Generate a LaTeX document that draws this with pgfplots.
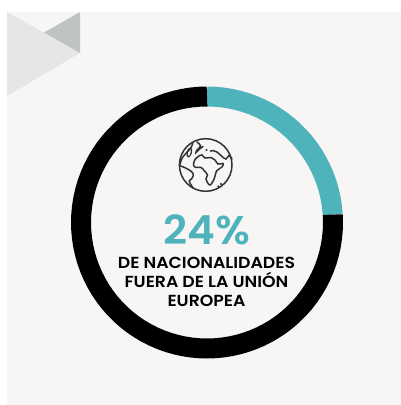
\documentclass[border=0pt]{standalone}
\usepackage{fontspec}
\setmainfont{Poppins}
\newfontfamily\lab{Poppins SemiBold}[FakeStretch=1.08]
\newfontfamily\pct{Poppins SemiBold}[FakeStretch=1.05]
\usepackage{pgfplots}
\pgfplotsset{compat=1.18}
\definecolor{panel}{HTML}{F7F6F4}
\definecolor{lighttri}{HTML}{E6E6E6}
\definecolor{darktri}{HTML}{BEC3C4}
\definecolor{ringteal}{HTML}{4FB3BC}
\definecolor{icon}{HTML}{333333}
\pgfplotsset{
  % picture pixels to axis units, the ring centre is the origin
  px/.style={x filter/.expression={x-207}, y filter/.expression={222.5-y}},
  globe/.style={px, draw=icon, line width=1.5pt, smooth, tension=0.6, no marks, line cap=round},
}
\begin{document}
\begin{tikzpicture}
\begin{axis}[
    scale only axis, width=401pt, height=405pt,
    xmin=-207, xmax=194, ymin=-182.5, ymax=222.5,
    hide axis, clip=false,
  ]
  % background
  \addplot[px, fill=white, draw=none, forget plot] coordinates {(0,0) (401,0) (401,405) (0,405)} --cycle;
  \addplot[px, fill=panel, draw=none, forget plot] coordinates {(7,12) (401,12) (401,405) (7,405)} --cycle;
  \addplot[px, fill=lighttri, draw=none, forget plot] coordinates {(7,12) (80,53) (7,96)} --cycle;
  \addplot[px, fill=darktri, draw=none, forget plot] coordinates {(80,12) (80,53) (44,32.5)} --cycle;

  % ring, 24% and 76%, one point per 1%
  \addplot[data cs=polar, draw=ringteal, line width=20pt, no marks] coordinates {
    (90,126) (86.4,126) (82.8,126) (79.2,126) (75.6,126) (72,126) (68.4,126) (64.8,126) (61.2,126) (57.6,126)
    (54,126) (50.4,126) (46.8,126) (43.2,126) (39.6,126) (36,126) (32.4,126) (28.8,126) (25.2,126) (21.6,126)
    (18,126) (14.4,126) (10.8,126) (7.2,126) (3.6,126)
  };
  \addplot[data cs=polar, draw=black, line width=20pt, no marks] coordinates {
    (3.6,126) (0,126) (-3.6,126) (-7.2,126) (-10.8,126) (-14.4,126) (-18,126) (-21.6,126) (-25.2,126) (-28.8,126)
    (-32.4,126) (-36,126) (-39.6,126) (-43.2,126) (-46.8,126) (-50.4,126) (-54,126) (-57.6,126) (-61.2,126) (-64.8,126)
    (-68.4,126) (-72,126) (-75.6,126) (-79.2,126) (-82.8,126) (-86.4,126) (-90,126) (-93.6,126) (-97.2,126) (-100.8,126)
    (-104.4,126) (-108,126) (-111.6,126) (-115.2,126) (-118.8,126) (-122.4,126) (-126,126) (-129.6,126) (-133.2,126) (-136.8,126)
    (-140.4,126) (-144,126) (-147.6,126) (-151.2,126) (-154.8,126) (-158.4,126) (-162,126) (-165.6,126) (-169.2,126) (-172.8,126)
    (-176.4,126) (-180,126) (-183.6,126) (-187.2,126) (-190.8,126) (-194.4,126) (-198,126) (-201.6,126) (-205.2,126) (-208.8,126)
    (-212.4,126) (-216,126) (-219.6,126) (-223.2,126) (-226.8,126) (-230.4,126) (-234,126) (-237.6,126) (-241.2,126) (-244.8,126)
    (-248.4,126) (-252,126) (-255.6,126) (-259.2,126) (-262.8,126) (-266.4,126) (-270,126)
  };

  % globe icon
  \draw[icon, line width=1.5pt] (axis cs:-1.3,57.5) circle [radius=26.3pt];
  \addplot[globe] coordinates {(192.7,143.3) (190.7,148.3) (186,153.3) (182,158.3) (180,164.3)};
  \addplot[globe] coordinates {(179.5,165.7) (185,167.7) (190.7,171) (193.3,174.3) (192,178.3) (189.3,181) (190.7,184.3) (193.3,188.3)};
  \addplot[globe] coordinates {(197,142) (200.5,146) (197,150) (196,152.5) (199,149.5) (203,146.5)};
  \addplot[globe] coordinates {(212,150.5) (217,152) (222,156.5) (226,159) (229,155.5) (232,159)};
  \addplot[globe] coordinates {(199,156) (195,159.5) (193.5,165) (196,167.5) (201,167.5) (204.5,171) (207.5,175) (206,179) (208.5,184) (211,184.5) (214.5,178) (216.5,171) (222,167) (223,163.5) (218,164) (215,160) (211,157.5) (205,158) (202,155) (199,156)};
  \draw[icon, line width=1.2pt, rotate around={-15:(axis cs:-17.7,70)}] (axis cs:-17.7,70) ellipse [x radius=2pt, y radius=4.5pt];
  \addplot[px, only marks, mark=*, mark size=0.8pt, color=icon] coordinates {(206.5,150) (211,151) (218.5,186.5) (221,184)};

  % labels
  \node[anchor=base, text=ringteal, font=\fontsize{40}{40}\pct, inner sep=0pt] at (axis cs:-0.5,-22.5) {24\%};
  \node[anchor=base, font=\fontsize{16}{16}\lab, inner sep=0pt] at (axis cs:-0.5,-46.5) {DE NACIONALIDADES};
  \node[anchor=base, font=\fontsize{16}{16}\lab, inner sep=0pt] at (axis cs:-0.5,-65.5) {FUERA DE LA UNIÓN};
  \node[anchor=base, font=\fontsize{16}{16}\lab, inner sep=0pt] at (axis cs:-0.5,-84.5) {EUROPEA};
\end{axis}
\end{tikzpicture}
\end{document}
